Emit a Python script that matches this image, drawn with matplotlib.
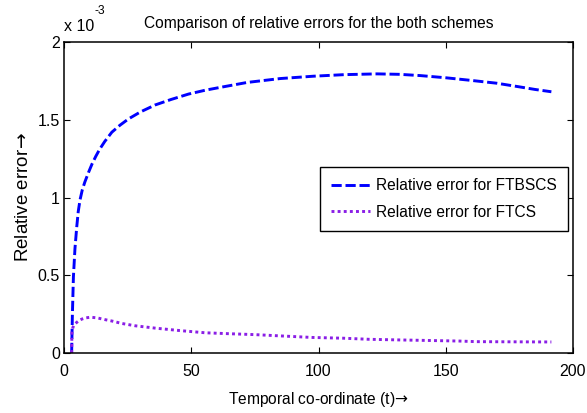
import matplotlib
matplotlib.use("Agg")
import matplotlib.pyplot as plt
from matplotlib import font_manager

# =========================================================
# data (errors in units of 1e-3)
# =========================================================
t_ftbscs = [3, 3.3, 3.7, 4.3, 5, 5.6, 6.3, 7.2, 8.2, 9.6, 11, 12.5, 14, 16,
            18.8, 22, 25.3, 30, 35.8, 42, 48.9, 55.5, 62, 72, 85, 98, 110,
            123, 132, 140, 150, 160, 170, 179.5, 185, 191.5]
err_ftbscs = [0, 0.25, 0.49, 0.67, 0.81, 0.91, 0.985, 1.05, 1.10, 1.16,
              1.215, 1.265, 1.31, 1.36, 1.42, 1.465, 1.505, 1.55, 1.595,
              1.63, 1.665, 1.69, 1.71, 1.74, 1.765, 1.78, 1.79, 1.795, 1.792,
              1.784, 1.77, 1.753, 1.735, 1.71, 1.695, 1.68]

t_ftcs = [3, 3.1, 3.5, 4.2, 5, 6, 7, 8.5, 10.5, 13, 16, 19, 22.7, 28, 35.8,
          45, 55.5, 65, 75.2, 85, 97.5, 110, 120, 132, 145, 155, 162, 175,
          191.5]
err_ftcs = [0, 0.13, 0.165, 0.185, 0.197, 0.21, 0.218, 0.226, 0.23, 0.226,
            0.215, 0.205, 0.19, 0.175, 0.16, 0.145, 0.13, 0.124, 0.118, 0.11,
            0.10, 0.095, 0.088, 0.084, 0.08, 0.077, 0.073, 0.072, 0.071]

x_ticks = [0, 50, 100, 150, 200]
y_ticks = [0, 0.5, 1, 1.5, 2]
y_tick_labels = ["0", "0.5", "1", "1.5", "2"]

title = "Comparison of relative errors for the both schemes"
x_label = r"Temporal co-ordinate (t)$\!\rightarrow$"
y_label = r"Relative error$\!\rightarrow$"
labels = ["Relative error for FTBSCS", "Relative error for FTCS"]

# =========================================================
# fonts
# =========================================================
names = {f.name for f in font_manager.fontManager.ttflist}
if "Liberation Sans Narrow" in names:
    narrow = ["Liberation Sans Narrow", "DejaVu Sans"]
    fs_tick, fs_text = 13, 13.5
else:
    narrow = ["Liberation Sans", "DejaVu Sans"]
    fs_tick, fs_text = 11.5, 11.2
regular = ["Liberation Sans", "DejaVu Sans"]

# =========================================================
# plotting
# =========================================================
fig = plt.figure(figsize=(5.87, 4.13), dpi=100)
ax = fig.add_axes([64 / 587, 60 / 413, 509 / 587, 311 / 413])

ax.plot(t_ftbscs, err_ftbscs, color="#0000ff", lw=2.1, dashes=(3.5, 1.3),
        label=labels[0])
ax.plot(t_ftcs, err_ftcs, color="#8a1ee6", lw=2.1, dashes=(1, 1.1),
        dash_capstyle="butt", label=labels[1])

ax.set_xlim(0, 200)
ax.set_ylim(0, 2)
ax.set_xticks(x_ticks)
ax.set_yticks(y_ticks)
ax.set_yticklabels(y_tick_labels)
ax.tick_params(direction="in", length=4.5, width=0.8, top=True, right=True)
ax.tick_params(axis="x", pad=8)
ax.tick_params(axis="y", pad=3)
for lab in ax.get_xticklabels() + ax.get_yticklabels():
    lab.set_family(narrow)
    lab.set_fontsize(fs_tick)
for sp in ax.spines.values():
    sp.set_linewidth(1.1)

ax.set_title(title, family=narrow, fontsize=fs_text, pad=10)
ax.set_xlabel(x_label, family=narrow, fontsize=fs_text, labelpad=8)
ax.set_ylabel(y_label, family=regular, fontsize=13.5, labelpad=4)

# scale factor above the y axis
ax.text(0.0, 1.025, "x 10", transform=ax.transAxes, family=narrow,
        fontsize=fs_tick, ha="left", va="bottom")
ax.text(0.06, 1.08, "-3", transform=ax.transAxes, family=narrow,
        fontsize=fs_tick * 0.75, ha="left", va="bottom")

leg = ax.legend(loc="center right", bbox_to_anchor=(0.99, 0.495),
                borderaxespad=0,
                prop={"family": narrow, "size": fs_text}, handlelength=2.5,
                handletextpad=0.4, labelspacing=0.75, borderpad=0.7,
                fancybox=False, framealpha=1)
leg.get_frame().set_edgecolor("black")
leg.get_frame().set_linewidth(1.0)

fig.savefig("out.png", dpi=100)
